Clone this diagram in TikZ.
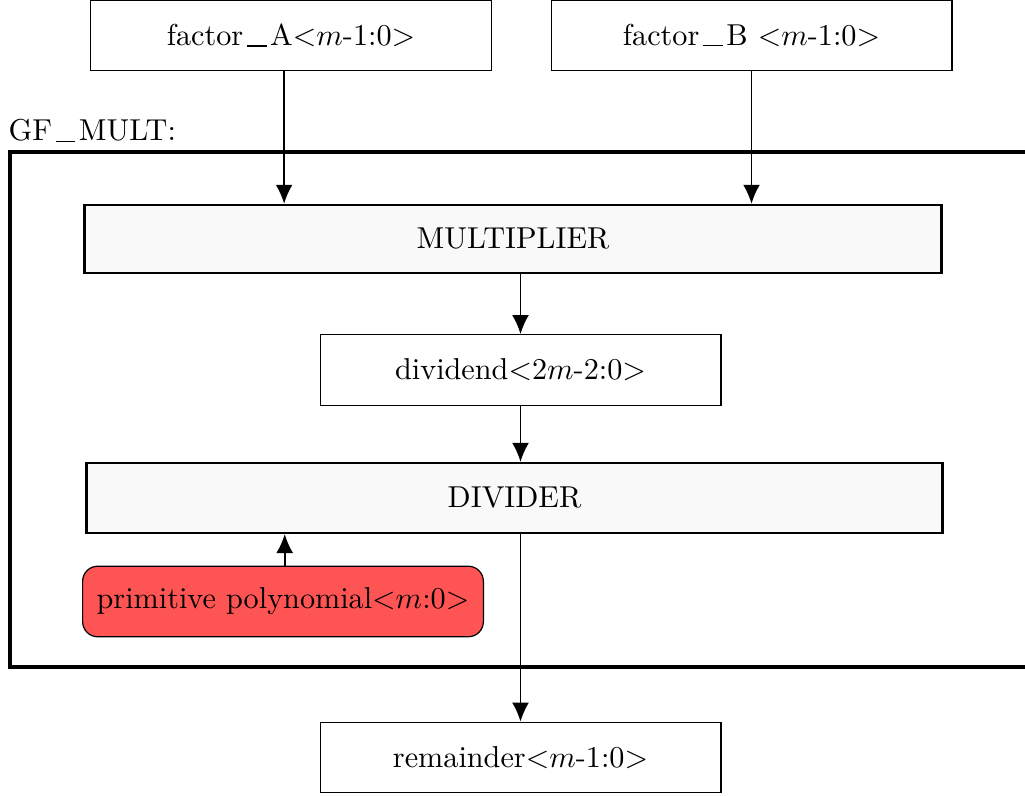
\documentclass[tikz,border=0pt]{standalone}
\usetikzlibrary{arrows.meta}
\newcommand\usc{\kern.12em\rule[-.3pt]{.65em}{.4pt}\kern.12em}
\begin{document}
\begin{tikzpicture}[x=0.01163cm,y=-0.01163cm,
  sig/.style={draw,minimum width=4.66cm,minimum height=0.82cm,inner sep=0pt},
  blk/.style={draw,thick,fill=gray!5,minimum height=0.79cm,inner sep=0pt},
  flow/.style={semithick,-{Latex[length=6.3pt,width=5.6pt]}}]
\useasboundingbox (0,0) rectangle (1025,796);
% outer block, open on the right
\draw[very thick] (1100,152) -- (10,152) -- (10,667) -- (1100,667);
\node[anchor=base west,inner sep=0pt] (gflbl) at (8,141) {GF\usc MULT:};
% inputs
\node[sig] (fa) at (291,35.5) {factor\usc A$<$$m$-1:0$>$};
\node[sig] (fb) at (751.5,35.5) {factor\usc B $<$$m$-1:0$>$};
% inside
\node[blk,minimum width=9.96cm] (mult) at (513,239) {MULTIPLIER};
\node[sig] (dvd) at (520.5,370) {dividend$<$2$m$-2:0$>$};
\node[blk,minimum width=9.95cm,minimum height=0.81cm] (divr) at (514.5,498) {DIVIDER};
\node[sig,fill=red!67,rounded corners=5pt] (prim) at (283,601.5) {primitive polynomial$<$$m$:0$>$};
% output
\node[sig] (rem) at (520.5,757.5) {remainder$<$$m$-1:0$>$};
\draw[flow] ([xshift=-0.08cm]fa.south) -- ([xshift=-0.08cm]fa.south |- mult.north);
\draw[flow] (fb.south) -- (fb.south |- mult.north);
\draw[flow] (mult.south -| dvd) -- (dvd.north);
\draw[flow] (dvd.south) -- (dvd.south |- divr.north);
\draw[flow] ([xshift=0.02cm]prim.north) -- ([xshift=0.02cm]prim.north |- divr.south);
\draw[flow] (divr.south -| rem) -- (rem.north);
\end{tikzpicture}
\end{document}
